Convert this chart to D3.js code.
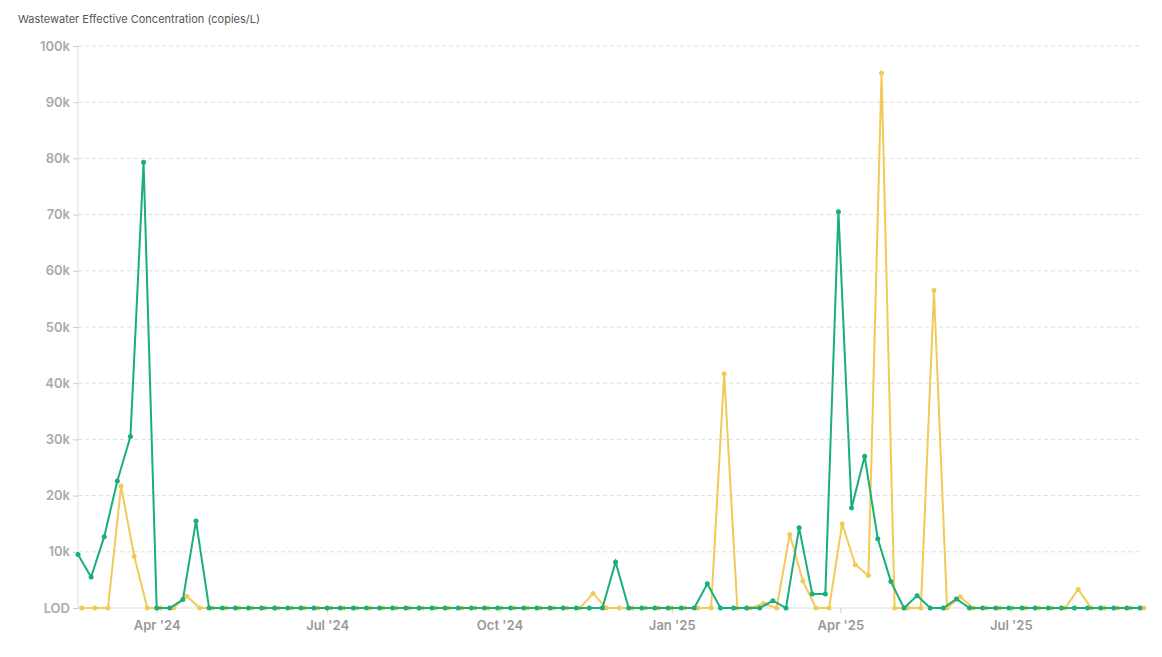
<!DOCTYPE html>
<html><head><meta charset="utf-8">
<script src="https://cdn.jsdelivr.net/npm/d3@7"></script>
<style>
body{margin:0;background:#fff;font-family:Inter,"Noto Sans",sans-serif;}
</style></head>
<body><svg id="chart"></svg>
<script>
// weekly samples, two sites
var greenStart = "2024-02-19", yellowStart = "2024-02-21";
var greenValues = [9500,5500,12700,22600,30500,79300,0,0,1500,15500,
  0,0,0,0,0,0,0,0,0,0, 0,0,0,0,0,0,0,0,0,0, 0,0,0,0,0,0,0,0,0,0,
  0,8200,0,0,0,0,0,0,4300,0, 0,0,0,1300,0,14300,2500,2500,70500,17800,
  27000,12300,4700,0,2200,0,0,1600,0,0, 0,0,0,0,0,0,0,0,0,0, 0,0];
var yellowValues = [0,0,0,21700,9200,0,0,0,2100,0,
  0,0,0,0,0,0,0,0,0,0, 0,0,0,0,0,0,0,0,0,0, 0,0,0,0,0,0,0,0,0,2600,
  0,0,0,0,0,0,0,0,0,41700, 0,0,800,0,13100,4800,0,0,15000,7700,
  5800,95200,0,0,0,56500,0,2000,0,0, 0,0,0,0,0,0,3300,0,0,0, 0,0];
var yTicks = [0,10000,20000,30000,40000,50000,60000,70000,80000,90000,100000];
var xTicks = ["2024-04-01","2024-07-01","2024-10-01","2025-01-01","2025-04-01","2025-07-01"];
var title = "Wastewater Effective Concentration (copies/L)";

var W = 1162, H = 657;
var parse = d3.timeParse("%Y-%m-%d");
function weekly(start, vals) {
  var d0 = parse(start);
  return vals.map(function(v, i) { return {date: d3.timeDay.offset(d0, i * 7), value: v}; });
}
var green = weekly(greenStart, greenValues);
var yellow = weekly(yellowStart, yellowValues);

var svg = d3.select("#chart").attr("width", W).attr("height", H);
var x = d3.scaleTime().domain([parse(greenStart), d3.timeDay.offset(parse(greenStart), 567)]).range([78, 1140]);
var y = d3.scaleLinear().domain([0, 100000]).range([608, 46]);

svg.append("text").attr("x", 18).attr("y", 23).attr("font-size", 11).attr("fill", "#555").text(title);

svg.selectAll(".grid").data(yTicks.slice(1)).enter().append("line")
  .attr("x1", 78).attr("x2", 1140).attr("y1", y).attr("y2", y)
  .attr("stroke", "#ddd").attr("stroke-dasharray", "4,3");
svg.append("line").attr("x1", 78).attr("x2", 1140).attr("y1", y(0)).attr("y2", y(0)).attr("stroke", "#ddd");
svg.append("line").attr("x1", 78).attr("x2", 78).attr("y1", 46).attr("y2", 608).attr("stroke", "#ddd");

var yAxis = d3.axisLeft(y).tickValues(yTicks).tickSize(5)
  .tickFormat(function(d) { return d === 0 ? "LOD" : (d / 1000) + "k"; });
var gy = svg.append("g").attr("transform", "translate(78,0)").call(yAxis);
gy.select(".domain").remove();
gy.selectAll("line").attr("stroke", "#ccc");
gy.selectAll("text").attr("font-size", 13).attr("font-weight", 600).attr("fill", "#aaa").attr("font-family", "Inter,sans-serif");

var xAxis = d3.axisBottom(x).tickValues(xTicks.map(parse)).tickSize(5).tickFormat(d3.timeFormat("%b '%y"));
var gx = svg.append("g").attr("transform", "translate(0,608)").call(xAxis);
gx.select(".domain").remove();
gx.selectAll("line").attr("stroke", "#ccc");
gx.selectAll("text").attr("font-size", 13).attr("font-weight", 600).attr("fill", "#999").attr("dy", "1.1em").attr("font-family", "Inter,sans-serif");

var line = d3.line().x(function(d) { return x(d.date); }).y(function(d) { return y(d.value); });
[[yellow, "#f0cb5a"], [green, "#1aae78"]].forEach(function(s) {
  svg.append("path").datum(s[0]).attr("d", line).attr("fill", "none").attr("stroke", s[1]).attr("stroke-width", 2);
  svg.selectAll(null).data(s[0]).enter().append("circle")
    .attr("cx", function(d) { return x(d.date); }).attr("cy", function(d) { return y(d.value); })
    .attr("r", 2.5).attr("fill", s[1]);
});
</script></body></html>
